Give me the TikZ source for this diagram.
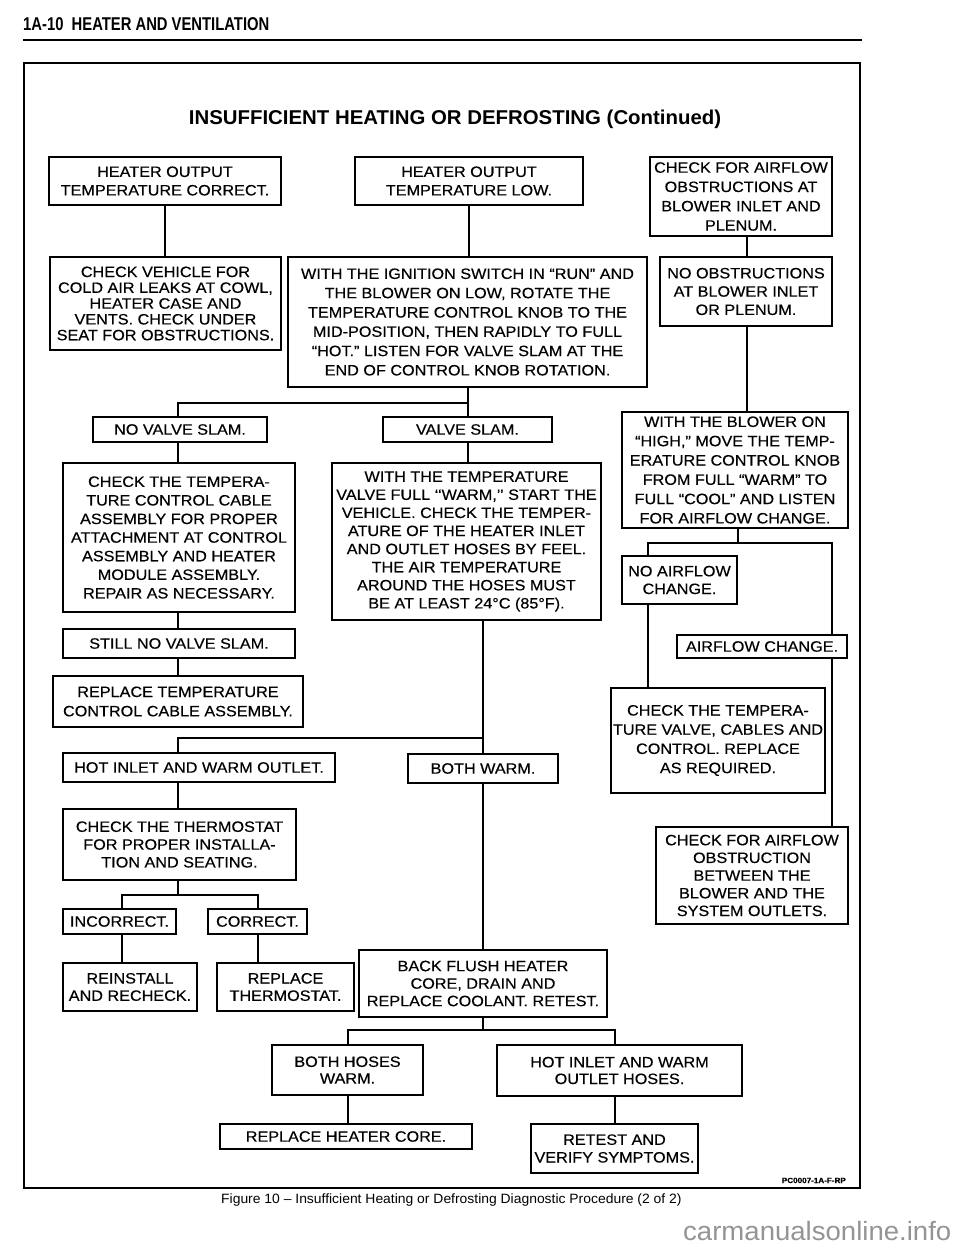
\documentclass[tikz,border=0pt]{standalone}
\usepackage{fontspec}
\setmainfont{Liberation Sans}[FakeStretch=1.08,FakeBold=0.4]
\newfontfamily\hdrfont{Liberation Sans}[FakeStretch=0.8]
\newfontfamily\titlefont{Liberation Sans}[FakeStretch=1.02]
\newfontfamily\capfont{Liberation Sans}[FakeStretch=1.03]
\newfontfamily\wmfont{Liberation Sans}[FakeStretch=1.04]
\definecolor{wmgray}{gray}{0.58}
\begin{document}
\begin{tikzpicture}[x=1pt,y=-1pt,
  box/.style={draw, line width=1.8pt, align=center, inner sep=1pt, font=\fontsize{15}{#1}\selectfont},
  box/.default=18.5,
  sz/.style 2 args={minimum width=#1pt, minimum height=#2pt},
  conn/.style={line width=1.6pt}]
\useasboundingbox (0,0) rectangle (960,1250);

% header
\node[anchor=base west, inner sep=0, font=\hdrfont\bfseries\fontsize{18.5}{20}\selectfont] (hdr) at (23,30) {1A-10\ \ HEATER AND VENTILATION};
\draw[line width=1.8pt] (23,40) -- (862,40);
% frame
\draw[line width=1.8pt] (24,63) rectangle (860,1188);
% title
\node[inner sep=0, font=\titlefont\bfseries\fontsize{20}{24}\selectfont] (title) at (455,119) {INSUFFICIENT HEATING OR DEFROSTING (Continued)};

% boxes
\node[box, sz={232}{48}] (b1) at (165,181) {HEATER OUTPUT\\TEMPERATURE CORRECT.};
\node[box, sz={228}{48}] (b2) at (469,181) {HEATER OUTPUT\\TEMPERATURE LOW.};
\node[box=19.3, sz={182}{79}] (b3) at (741,196.5) {CHECK FOR AIRFLOW\\OBSTRUCTIONS AT\\BLOWER INLET AND\\PLENUM.};
\node[box=15.8, sz={231}{93}] (b4) at (165.5,303.5) {CHECK VEHICLE FOR\\COLD AIR LEAKS AT COWL,\\HEATER CASE AND\\VENTS. CHECK UNDER\\SEAT FOR OBSTRUCTIONS.};
\node[box=19.3, sz={359}{130}] (b5) at (467.5,322) {WITH THE IGNITION SWITCH IN “RUN” AND\\THE BLOWER ON LOW, ROTATE THE\\TEMPERATURE CONTROL KNOB TO THE\\MID-POSITION, THEN RAPIDLY TO FULL\\“HOT.” LISTEN FOR VALVE SLAM AT THE\\END OF CONTROL KNOB ROTATION.};
\node[box=18.3, sz={172}{69}] (b6) at (746,291.5) {NO OBSTRUCTIONS\\AT BLOWER INLET\\OR PLENUM.};
\node[box, sz={174}{25}] (b7) at (180,429.5) {NO VALVE SLAM.};
\node[box, sz={169}{25}] (b8) at (467.5,429.5) {VALVE SLAM.};
\node[box=19.3, sz={226}{116}] (b9) at (735,470) {WITH THE BLOWER ON\\“HIGH,” MOVE THE TEMP-\\ERATURE CONTROL KNOB\\FROM FULL “WARM” TO\\FULL “COOL” AND LISTEN\\FOR AIRFLOW CHANGE.};
\node[box=18.6, sz={232}{149}] (b10) at (179,537.5) {CHECK THE TEMPERA-\\TURE CONTROL CABLE\\ASSEMBLY FOR PROPER\\ATTACHMENT AT CONTROL\\ASSEMBLY AND HEATER\\MODULE ASSEMBLY.\\REPAIR AS NECESSARY.};
\node[box=18.1, sz={269}{157}] (b11) at (466.5,541.5) {WITH THE TEMPERATURE\\VALVE FULL ‘‘WARM,’’ START THE\\VEHICLE. CHECK THE TEMPER-\\ATURE OF THE HEATER INLET\\AND OUTLET HOSES BY FEEL.\\THE AIR TEMPERATURE\\AROUND THE HOSES MUST\\BE AT LEAST 24°C (85°F).};
\node[box=17.7, sz={115}{48}] (b14) at (679.5,580) {NO AIRFLOW\\CHANGE.};
\node[box, sz={170}{23}] (b13) at (762,646.5) {AIRFLOW CHANGE.};
\node[box, sz={232}{29}] (b12) at (179,643.5) {STILL NO VALVE SLAM.};
\node[box=19.3, sz={250}{51}] (b15) at (178,701.5) {REPLACE TEMPERATURE\\CONTROL CABLE ASSEMBLY.};
\node[box=19.2, sz={214}{105}] (b19) at (718,740.5) {CHECK THE TEMPERA-\\TURE VALVE, CABLES AND\\CONTROL. REPLACE\\AS REQUIRED.};
\node[box, sz={272}{29}] (b16) at (199,767.5) {HOT INLET AND WARM OUTLET.};
\node[box, sz={150}{29}] (b17) at (483,768.5) {BOTH WARM.};
\node[box=17.8, sz={233}{71}] (b18) at (179.5,844.5) {CHECK THE THERMOSTAT\\FOR PROPER INSTALLA-\\TION AND SEATING.};
\node[box=17.7, sz={192}{97}] (b20) at (752,875.5) {CHECK FOR AIRFLOW\\OBSTRUCTION\\BETWEEN THE\\BLOWER AND THE\\SYSTEM OUTLETS.};
\node[box, sz={113}{25}] (b21) at (119.5,921.5) {INCORRECT.};
\node[box, sz={99}{25}] (b22) at (257.5,921.5) {CORRECT.};
\node[box=17.3, sz={134}{48}] (b23) at (130,987) {REINSTALL\\AND RECHECK.};
\node[box=17.3, sz={137}{48}] (b24) at (285.5,987) {REPLACE\\THERMOSTAT.};
\node[box=17.5, sz={248}{67}] (b25) at (483,983.5) {BACK FLUSH HEATER\\CORE, DRAIN AND\\REPLACE COOLANT. RETEST.};
\node[box=16.7, sz={151}{50}] (b26) at (347.5,1070) {BOTH HOSES\\WARM.};
\node[box=16.7, sz={245}{51}] (b27) at (619.5,1070.5) {HOT INLET AND WARM\\OUTLET HOSES.};
\node[box, sz={252}{25}] (b28) at (346,1136.5) {REPLACE HEATER CORE.};
\node[box=17.7, sz={167}{49}] (b29) at (614.5,1148.5) {RETEST AND\\VERIFY SYMPTOMS.};

% reference coordinates for connector columns and branch rows
\coordinate (xL) at (178,0);
\coordinate (xM) at (468,0);
\coordinate (xN) at (483,0);
\coordinate (xR1) at (747,0);
\coordinate (xR2) at (738,0);
\coordinate (xR3) at (648,0);
\coordinate (xR4) at (832,0);
\coordinate (xI) at (122,0);
\coordinate (xC) at (258,0);
\coordinate (xBH) at (348,0);
\coordinate (xHI) at (615,0);
\coordinate (yA) at (0,403);
\coordinate (yB) at (0,738);
\coordinate (yC) at (0,895);
\coordinate (yD) at (0,1030);
\coordinate (yE) at (0,543);

% connectors
\draw[conn] (b1.south) -- (b1.south |- b4.north);
\draw[conn] (b2.south) -- (b2.south |- b5.north);
\draw[conn] (b3.south -| xR1) -- (b6.north -| xR1);
\draw[conn] (b6.south -| xR1) -- (b9.north -| xR1);
\draw[conn] (b5.south -| xM) -- (xM |- yA) -- (xL |- yA) -- (b7.north -| xL);
\draw[conn] (xM |- yA) -- (b8.north -| xM);
\draw[conn] (b7.south -| xL) -- (b10.north -| xL);
\draw[conn] (b8.south -| xM) -- (b11.north -| xM);
\draw[conn] (b10.south -| xL) -- (b12.north -| xL);
\draw[conn] (b12.south -| xL) -- (b15.north -| xL);
\draw[conn] (b11.south -| xN) -- (b17.north -| xN);
\draw[conn] (xN |- yB) -- (xL |- yB) -- (b16.north -| xL);
\draw[conn] (b16.south -| xL) -- (b18.north -| xL);
\draw[conn] (b18.south -| xL) -- (xL |- yC);
\draw[conn] (b21.north -| xI) -- (xI |- yC) -- (xC |- yC) -- (b22.north -| xC);
\draw[conn] (b21.south -| xI) -- (b23.north -| xI);
\draw[conn] (b22.south -| xC) -- (b24.north -| xC);
\draw[conn] (b17.south -| xN) -- (b25.north -| xN);
\draw[conn] (b25.south -| xN) -- (xN |- yD);
\draw[conn] (b26.north -| xBH) -- (xBH |- yD) -- (xHI |- yD) -- (b27.north -| xHI);
\draw[conn] (b26.south -| xBH) -- (b28.north -| xBH);
\draw[conn] (b27.south -| xHI) -- (b29.north -| xHI);
\draw[conn] (b9.south -| xR2) -- (xR2 |- yE);
\draw[conn] (b14.north -| xR3) -- (xR3 |- yE) -- (xR4 |- yE) -- (b13.north -| xR4);
\draw[conn] (b14.south -| xR3) -- (b19.north -| xR3);
\draw[conn] (b13.south -| xR4) -- (b20.north -| xR4);

% labels
\node[anchor=base east, inner sep=0, font=\bfseries\fontsize{7.5}{9}\selectfont] (pc) at (846,1183) {PC0007-1A-F-RP};
\node[anchor=base west, inner sep=0, font=\capfont\fontsize{13.5}{16}\selectfont] (cap) at (221,1203) {Figure 10 – Insufficient Heating or Defrosting Diagnostic Procedure (2 of 2)};
\node[anchor=base west, inner sep=0, text=wmgray, font=\wmfont\fontsize{26.5}{30}\selectfont] (wm) at (683,1240) {carmanualsonline.info};
\end{tikzpicture}
\end{document}
